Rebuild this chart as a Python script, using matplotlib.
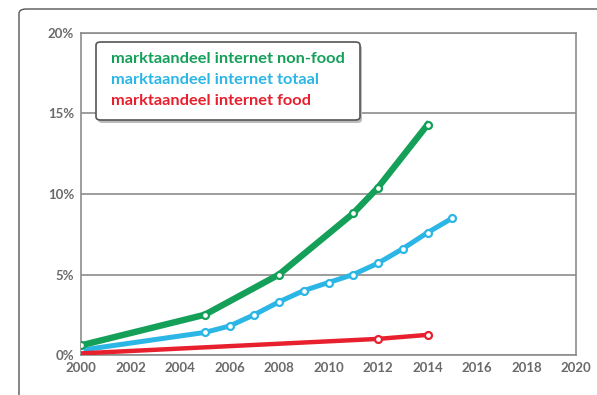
import matplotlib.pyplot as plt
from matplotlib.patches import FancyBboxPatch
from matplotlib.ticker import FuncFormatter

# marktaandeel internet (procent van totale bestedingen)
years_nonfood = [2000, 2005, 2008, 2011, 2012, 2014]
share_nonfood = [0.6, 2.5, 5.0, 8.8, 10.4, 14.3]

years_totaal = [2000, 2005, 2006, 2007, 2008, 2009, 2010, 2011, 2012, 2013, 2014, 2015]
share_totaal = [0.3, 1.4, 1.8, 2.5, 3.3, 4.0, 4.5, 5.0, 5.7, 6.6, 7.6, 8.5]

years_food = [2000, 2012, 2014]
share_food = [0.1, 1.0, 1.25]

labels = ['marktaandeel internet non-food',
          'marktaandeel internet totaal',
          'marktaandeel internet food']
colors = ['#15a05a', '#2bb6e6', '#e8202e']

plt.rcParams['font.family'] = ['Lato', 'DejaVu Sans']

fig = plt.figure(figsize=(5.97, 3.95), dpi=100)

# outer frame (right and bottom edges run off the canvas)
frame = FancyBboxPatch((19 / 597, -0.05), 1.1, 1.05 - 9 / 395,
                       boxstyle='round,pad=0,rounding_size=0.012',
                       transform=fig.transFigure, fill=False,
                       edgecolor='#555555', linewidth=1.0)
fig.patches.append(frame)

ax = fig.add_axes([81 / 597, 40 / 395, 495 / 597, 322 / 395])

ax.plot(years_nonfood, share_nonfood, color=colors[0], lw=4.6, marker='o',
        ms=5, mfc='white', mec=colors[0], mew=1.6, zorder=4)
ax.plot(years_totaal, share_totaal, color=colors[1], lw=3.6, marker='o',
        ms=5, mfc='white', mec=colors[1], mew=1.6, zorder=3)
ax.plot(years_food, share_food, color=colors[2], lw=3.2, marker='o',
        ms=5, mfc='white', mec=colors[2], mew=1.6, zorder=3,
        markevery=[1, 2])

ax.set_xlim(2000, 2020)
ax.set_ylim(0, 20)
ax.set_xticks(range(2000, 2021, 2))
ax.set_yticks([0, 5, 10, 15, 20])
ax.yaxis.set_major_formatter(FuncFormatter(lambda v, p: f'{v:.0f}%'))
ax.tick_params(length=0, labelsize=9.5, colors='#6a6a6a', pad=5)
for lab in ax.get_xticklabels() + ax.get_yticklabels():
    lab.set_fontweight('bold')
ax.grid(axis='y', color='#8c8c8c', lw=1.2)
ax.set_axisbelow(True)
for s in ax.spines.values():
    s.set_color('#8c8c8c')
    s.set_linewidth(1.2)

# legend box with coloured text
box = FancyBboxPatch((96 / 597, 1 - 120 / 395), 264 / 597, 78 / 395,
                     boxstyle='round,pad=0,rounding_size=0.008',
                     transform=fig.transFigure, facecolor='white',
                     edgecolor='#555555', linewidth=1.2, zorder=5)
shadow = FancyBboxPatch((98 / 597, 1 - 123 / 395), 264 / 597, 78 / 395,
                        boxstyle='round,pad=0,rounding_size=0.008',
                        transform=fig.transFigure, facecolor='#bbbbbb',
                        edgecolor='none', zorder=4)
fig.patches.extend([shadow, box])
for i, (lab, c) in enumerate(zip(labels, colors)):
    fig.text(111 / 597, 1 - (59 + i * 21) / 395, lab, color=c,
             fontsize=11.8, fontweight='bold', va='center', ha='left', zorder=6)

fig.savefig('out.png', dpi=100)
